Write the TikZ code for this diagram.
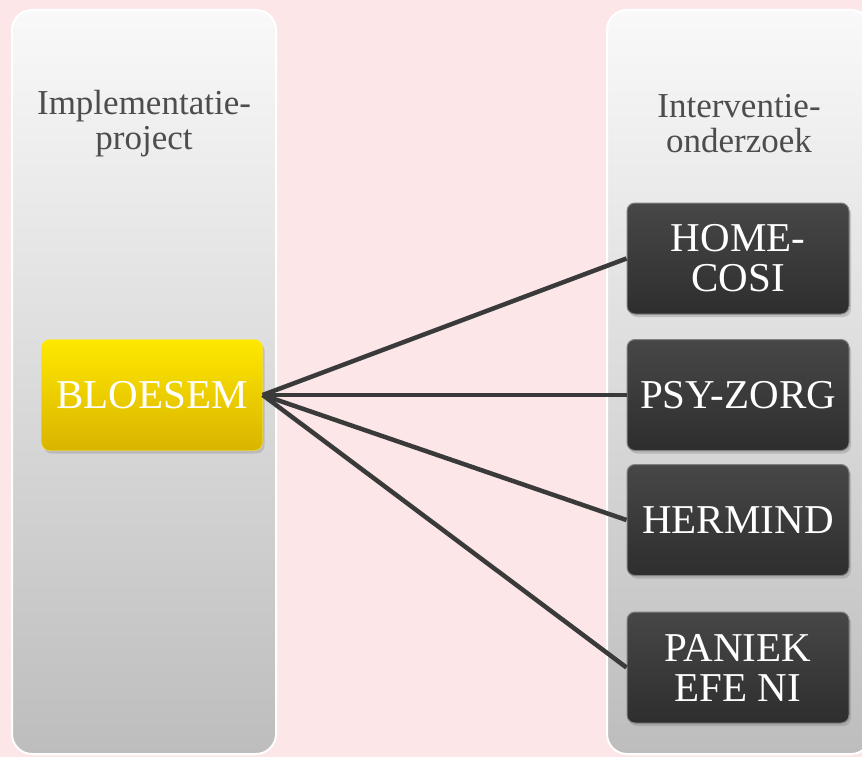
\documentclass[tikz,border=0pt]{standalone}
\usepackage{fontspec}
\setmainfont{Liberation Serif}
\definecolor{bgpink}{HTML}{FCE6E8}
\definecolor{coltop}{HTML}{F9F9F9}
\definecolor{colbottom}{HTML}{BDBDBD}
\definecolor{headgray}{HTML}{4D4D4D}
\definecolor{bloesemtop}{HTML}{FFE800}
\definecolor{bloesembottom}{HTML}{D9B400}
\definecolor{studytop}{HTML}{474747}
\definecolor{studybottom}{HTML}{2E2E2E}
\definecolor{linkgray}{HTML}{3A3A3A}
\usetikzlibrary{positioning, shadows}

\begin{document}
\begin{tikzpicture}[x=1pt, y=-1pt,
    column/.style={rectangle, rounded corners=20pt, draw=white, line width=2pt,
      top color=coltop, bottom color=colbottom, inner sep=0pt,
      minimum width=264pt, minimum height=744pt},
    header/.style={font=\fontsize{35}{35}\selectfont, text=headgray, align=center},
    mainbox/.style={rectangle, rounded corners=8pt, draw=bloesemtop!80!white,
      top color=bloesemtop, bottom color=bloesembottom, text=white,
      font=\fontsize{41}{40}\selectfont, minimum width=221pt, minimum height=111pt,
      drop shadow={opacity=0.3, shadow xshift=2pt, shadow yshift=-3pt}},
    studybox/.style={rectangle, rounded corners=8pt, draw=black!50, line width=1pt,
      top color=studytop, bottom color=studybottom, text=white, align=center,
      font=\fontsize{41}{40}\selectfont, minimum width=222pt, minimum height=111pt,
      drop shadow={opacity=0.35, shadow xshift=2pt, shadow yshift=-3pt}},
    link/.style={draw=linkgray, line width=4.5pt}]
  \useasboundingbox (0,0) rectangle (862,757);
  \clip (0,0) rectangle (862,757);
  \fill[bgpink] (0,0) rectangle (862,757);
  % Columns
  \node[column] (impl) at (144,382) {};
  \node[column] (interv) at (739,382) {};
  \node[header] (implhead) at (144,124) {Implementatie-\\project};
  \node[header] (intervhead) at (739,124) {Interventie-\\onderzoek};
  % Implementation project
  \node[mainbox] (bloesem) at (152,395) {BLOESEM};
  % Intervention studies
  \node[studybox] (homecosi) at (738,258.5) {HOME-\\COSI};
  \node[studybox] (psyzorg) at (738,395) {PSY-ZORG};
  \node[studybox] (hermind) at (738,520) {HERMIND};
  \node[studybox] (paniek) at (738,667.5) {PANIEK\\EFE NI};
  % Links
  \draw[link] (bloesem.east) -- (homecosi.west);
  \draw[link] (bloesem.east) -- (psyzorg.west);
  \draw[link] (bloesem.east) -- (hermind.west);
  \draw[link] (bloesem.east) -- (paniek.west);
\end{tikzpicture}
\end{document}
